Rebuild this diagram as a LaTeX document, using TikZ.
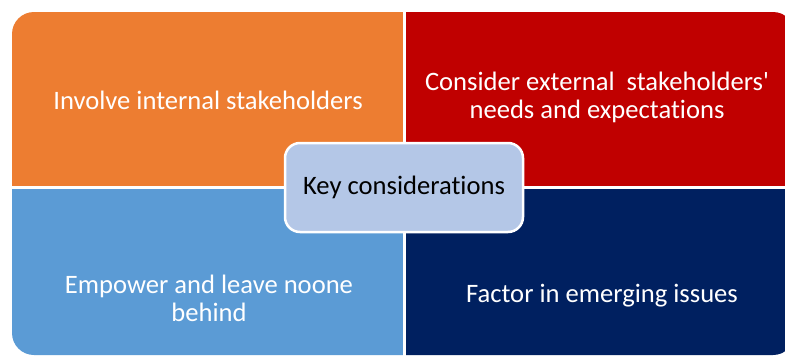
\documentclass[tikz,border=0pt]{standalone}
\usepackage{fontspec}
\setmainfont[Ligatures=NoCommon]{Carlito}
\usepackage{xcolor}
\definecolor{mxorange}{HTML}{ED7D31}
\definecolor{mxred}{HTML}{C00000}
\definecolor{mxsky}{HTML}{5B9BD5}
\definecolor{mxnavy}{HTML}{002060}
\definecolor{mxpale}{HTML}{B4C7E7}

\begin{document}
\begin{tikzpicture}[x=1pt, y=-1pt, font=\fontsize{26.6}{28}\selectfont]
    \useasboundingbox (0,0) rectangle (785,356);
    \fill[white] (0,0) rectangle (785,356);

    % four quadrants, outer corners rounded by the clip
    \begin{scope}
      \clip[rounded corners=22pt] (12,12) rectangle (795,355);
      \fill[mxorange] (12,12) rectangle (403,186);
      \fill[mxred] (406,12) rectangle (800,186);
      \fill[mxsky] (12,189) rectangle (403,360);
      \fill[mxnavy] (406,189) rectangle (800,360);
    \end{scope}

    \node[text=white, align=center] (inner) at (208,100)
          {Involve internal stakeholders};
    \node[text=white, align=center] (outer) at (597,97)
          {Consider external\ \ stakeholders\textquotesingle\\
           needs and expectations};
    \node[text=white, align=center] (empower) at (209,298)
          {Empower and leave noone\\
           behind};
    \node[text=white, align=center] (emerging) at (602,296)
          {Factor in emerging issues};

    % centre box
    \node[draw=white, line width=2.5pt, fill=mxpale, rounded corners=15pt,
          minimum width=238pt, minimum height=89pt, text=black] (key) at (404,187.5)
          {Key considerations};
  \end{tikzpicture}
\end{document}
